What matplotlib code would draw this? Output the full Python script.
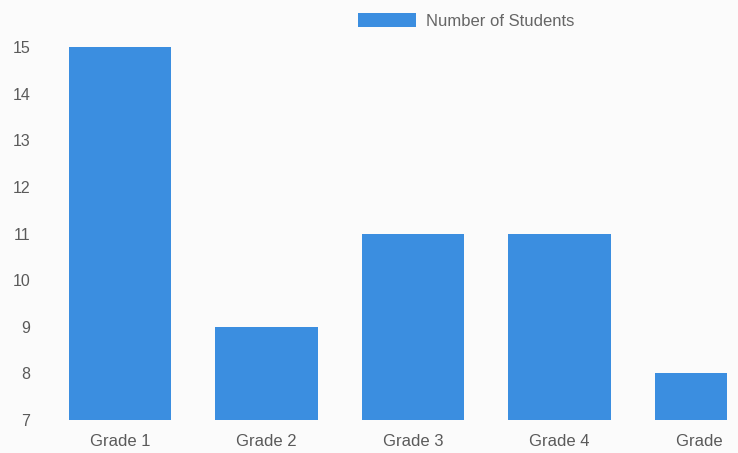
import matplotlib
matplotlib.use("Agg")
import matplotlib.pyplot as plt
from matplotlib.transforms import Bbox

categories = ["Grade 1", "Grade 2", "Grade 3", "Grade 4", "Grade 5"]
students = [15, 9, 11, 11, 8]
series_label = "Number of Students"
y_ticks = [7, 8, 9, 10, 11, 12, 13, 14, 15]

plt.rcParams['font.family'] = ['Liberation Sans', 'DejaVu Sans']

W, H = 738, 453
fig = plt.figure(figsize=(W / 100, H / 100), dpi=100)
fig.patch.set_facecolor('#fbfbfb')

# axes placement in pixels
left_px, right_px = 40, 727
top_px, bottom_px = 47, 420
ax = fig.add_axes([left_px / W, 1 - bottom_px / H,
                   (right_px - left_px) / W, (bottom_px - top_px) / H])
ax.set_facecolor('none')

color = '#3b8ee0'
x = list(range(len(categories)))
bars = ax.bar(x, [v - 7 for v in students], bottom=7, width=0.70,
              color=color, label=series_label)

step = 146.5
ax.set_xlim(-(120 - left_px) / step, (right_px - 120) / step)
ax.set_ylim(7, 15)

for s in ax.spines.values():
    s.set_visible(False)
ax.tick_params(length=0)
ax.set_yticks(y_ticks)
ax.set_yticklabels([str(t) for t in y_ticks], fontsize=11.5, color='#5a5a5a')
ax.tick_params(axis='y', pad=7)
ax.set_xticks(x)
ax.set_xticklabels(categories, fontsize=12, color='#5a5a5a')
ax.tick_params(axis='x', pad=10)

# clip the last label at the chart's right edge, like the reference
clip = Bbox.from_extents(0, 0, right_px - 3, H)
for lbl in ax.get_xticklabels():
    lbl.set_clip_box(clip)
    lbl.set_clip_on(True)

leg = fig.legend(handles=[bars], labels=[series_label], loc='center',
                 bbox_to_anchor=(466 / W, 1 - 21 / H), frameon=False,
                 fontsize=12, handlelength=3.5, handleheight=0.95,
                 handletextpad=0.6, labelcolor='#666666')

fig.savefig('out.png', dpi=100, facecolor=fig.get_facecolor())
